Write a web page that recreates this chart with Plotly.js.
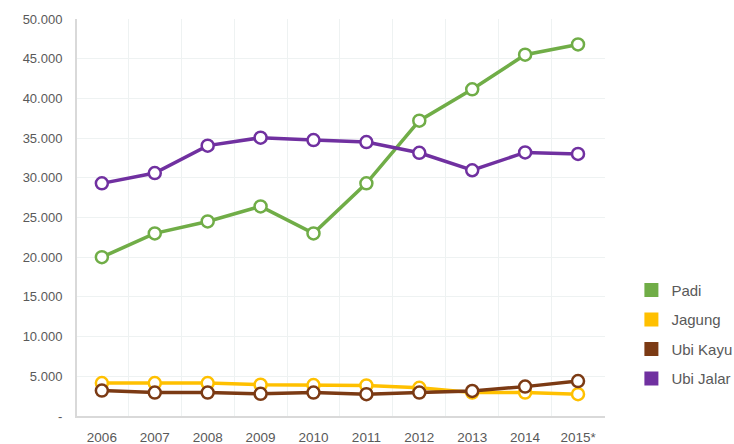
<!DOCTYPE html>
<html>
<head>
<meta charset="utf-8">
<script src="https://cdn.plot.ly/plotly-3.0.1.min.js"></script>
<style>html,body{margin:0;padding:0;background:#fff;}#chart{width:734px;height:444px;}</style>
</head>
<body>
<div id="chart"></div>
<script>
const years = ["2006","2007","2008","2009","2010","2011","2012","2013","2014","2015*"];
const padi = [20000, 23000, 24500, 26400, 23000, 29300, 37200, 41150, 45500, 46800];
const jagung = [4150, 4150, 4150, 3950, 3900, 3850, 3550, 2950, 2950, 2750];
const ubiKayu = [3200, 2950, 2950, 2800, 2950, 2750, 2950, 3150, 3700, 4400];
const ubiJalar = [29300, 30600, 34050, 35050, 34750, 34500, 33150, 30950, 33200, 33000];
const seriesNames = ["Padi", "Jagung", "Ubi Kayu", "Ubi Jalar"];
const seriesColors = ["#70ad47", "#ffc000", "#7b3a14", "#7030a0"];
const yTickVals = [0, 5000, 10000, 15000, 20000, 25000, 30000, 35000, 40000, 45000, 50000];
const yTickText = ["-", "5.000", "10.000", "15.000", "20.000", "25.000", "30.000", "35.000", "40.000", "45.000", "50.000"];

const seriesData = [padi, jagung, ubiKayu, ubiJalar];
const drawOrder = [1, 2, 0, 3];
const traces = [];
drawOrder.forEach(i => {
  traces.push({
    x: years, y: seriesData[i], type: "scatter", mode: "lines+markers",
    name: seriesNames[i], showlegend: false,
    line: {color: seriesColors[i], width: 3.5},
    marker: {size: 12, color: "#ffffff", line: {color: seriesColors[i], width: 2.5}},
    hoverinfo: "x+y+name"
  });
});
seriesNames.forEach((n, i) => {
  traces.push({
    x: [null], y: [null], type: "scatter", mode: "markers", name: n,
    legendgroup: "g" + i, showlegend: true,
    marker: {symbol: "square", size: 14, color: seriesColors[i]}
  });
});

const layout = {
  width: 734, height: 444,
  margin: {l: 77, r: 129, t: 19, b: 28, autoexpand: false},
  paper_bgcolor: "#ffffff", plot_bgcolor: "#ffffff",
  font: {family: "Liberation Sans, Arial, sans-serif", size: 13, color: "#595959"},
  xaxis: {
    type: "category", range: [-0.47, 9.51], tickson: "boundaries", showgrid: true, gridcolor: "#eef2f2", gridwidth: 1,
    showline: true, linecolor: "#d9d9d9", linewidth: 2, zeroline: false,
    ticks: "", ticklabelstandoff: 8,
    tickfont: {size: 13.5, color: "#595959"}, fixedrange: true
  },
  yaxis: {
    range: [0, 50000], tickvals: yTickVals, ticktext: yTickText,
    showgrid: true, gridcolor: "#eef2f2", gridwidth: 1,
    showline: true, linecolor: "#d9d9d9", linewidth: 2, zeroline: false,
    ticks: "outside", ticklen: 10, tickcolor: "rgba(0,0,0,0)",
    tickfont: {size: 13, color: "#595959"}, fixedrange: true
  },
  legend: {
    x: 1.05, xanchor: "left", y: 0.358, yanchor: "top",
    traceorder: "grouped", tracegroupgap: 7,
    font: {size: 15, color: "#595959"}, bgcolor: "rgba(0,0,0,0)"
  },
  showlegend: true
};
Plotly.newPlot("chart", traces, layout, {displayModeBar: false, staticPlot: true});
</script>
</body>
</html>
